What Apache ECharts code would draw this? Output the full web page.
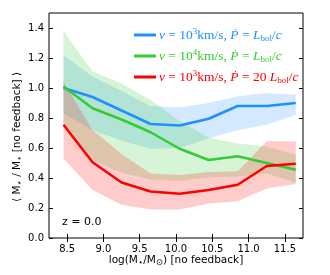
<!DOCTYPE html>
<html><head><meta charset="utf-8">
<script src="https://cdn.jsdelivr.net/npm/echarts@6/dist/echarts.min.js"></script>
<style>html,body{margin:0;padding:0;background:#fff}#c{width:330px;height:275px}</style>
</head><body><div id="c"></div>
<script>
const xVals=[8.45,8.85,9.25,9.65,10.05,10.45,10.85,11.25,11.65];
const blueMean=[1.0,0.94,0.85,0.76,0.75,0.795,0.88,0.88,0.90];
const blueLow=[0.83,0.72,0.65,0.595,0.60,0.665,0.72,0.755,0.82];
const blueHigh=[1.22,1.075,0.98,0.88,0.87,0.90,0.945,0.965,0.955];
const greenMean=[1.01,0.865,0.79,0.705,0.595,0.52,0.545,0.50,0.455];
const greenLow=[0.74,0.52,0.435,0.39,0.38,0.405,0.41,0.43,0.37];
const greenHigh=[1.38,1.11,1.03,0.92,0.78,0.67,0.63,0.61,0.555];
const redMean=[0.755,0.505,0.37,0.31,0.295,0.32,0.355,0.48,0.495];
const redLow=[0.53,0.32,0.222,0.19,0.19,0.23,0.245,0.33,0.36];
const redHigh=[1.04,0.72,0.56,0.43,0.42,0.44,0.445,0.645,0.645];
const xTicks=[8.5,9.0,9.5,10.0,10.5,11.0,11.5];
const yTicks=[0.0,0.2,0.4,0.6,0.8,1.0,1.2,1.4];
const names=['blue','green','red'];
const legendTexts={
  blue:'{i|v} = 10{sup|3}km/s, {i|Ṗ} = {i|L}{sub|bol}/{i|c}',
  green:'{i|v} = 10{sup|4}km/s, {i|Ṗ} = {i|L}{sub|bol}/{i|c}',
  red:'{i|v} = 10{sup|3}km/s, {i|Ṗ} = 20 {i|L}{sub|bol}/{i|c}'
};
const colors={blue:'#1e90ff',green:'#33cc33',red:'#ff0000'};
const fills={blue:'rgba(30,144,255,0.2)',green:'rgba(50,205,50,0.2)',red:'rgba(255,0,0,0.2)'};
const data={blue:[blueMean,blueLow,blueHigh],green:[greenMean,greenLow,greenHigh],red:[redMean,redLow,redHigh]};

const series=[];
names.forEach(n=>{
  const [m,lo,hi]=data[n];
  series.push({type:'custom',silent:true,z:1,
    data:xVals.map((x,i)=>[x,lo[i],hi[i]]),
    encode:{x:0,y:[1,2]},
    renderItem:(params,api)=>{
      if(params.dataIndex!==0) return null;
      const top=xVals.map((x,i)=>api.coord([x,hi[i]]));
      const bot=xVals.map((x,i)=>api.coord([x,lo[i]])).reverse();
      return {type:'polygon',shape:{points:top.concat(bot)},style:{fill:fills[n],stroke:null}};
    }});
});
names.forEach(n=>{
  series.push({type:'line',name:n,symbol:'none',
    data:xVals.map((x,i)=>[x,data[n][0][i]]),
    lineStyle:{color:colors[n],width:2.5},itemStyle:{color:colors[n]},z:3});
});

const axText={fontFamily:'DejaVu Sans',fontSize:10,color:'#000'};
const chart=echarts.init(document.getElementById('c'),null,{renderer:'canvas'});
chart.setOption({
  animation:false,
  grid:{left:49,right:27,top:13,bottom:37,show:true,borderColor:'#000',borderWidth:1,backgroundColor:'transparent'},
  xAxis:[
    {type:'value',min:8.25,max:11.75,splitLine:{show:false},
     axisLine:{show:false},
     axisTick:{inside:true,length:4,lineStyle:{color:'#000'},customValues:xTicks},
     axisLabel:Object.assign({margin:6,customValues:xTicks,formatter:v=>v.toFixed(1)},axText)},
    {type:'value',min:8.25,max:11.75,position:'top',splitLine:{show:false},
     axisLine:{show:false},
     axisTick:{inside:true,length:4,lineStyle:{color:'#000'},customValues:xTicks},
     axisLabel:{show:false}}
  ],
  yAxis:[
    {type:'value',min:0,max:1.5,splitLine:{show:false},axisLine:{show:false},
     axisTick:{show:true,inside:true,length:4,lineStyle:{color:'#000'},customValues:yTicks},
     axisLabel:Object.assign({margin:5,customValues:yTicks,formatter:v=>v.toFixed(1)},axText)},
    {type:'value',min:0,max:1.5,position:'right',splitLine:{show:false},axisLine:{show:false},
     axisTick:{show:true,inside:true,length:4,lineStyle:{color:'#000'},customValues:yTicks},
     axisLabel:{show:false}}
  ],
  legend:{
    orient:'vertical',left:129,top:22,itemWidth:22,itemHeight:3,itemGap:5,icon:'rect',
    data:names.map(n=>({name:n,itemStyle:{color:colors[n]},textStyle:{color:colors[n]}})),
    formatter:n=>legendTexts[n],
    textStyle:{fontFamily:'Liberation Serif',fontSize:13.5,lineHeight:16,padding:[0,0,0,-2],
      rich:{
        i:{fontFamily:'Liberation Serif',fontStyle:'italic',fontSize:13.5},
        sup:{fontFamily:'Liberation Serif',fontSize:9,verticalAlign:'top',lineHeight:16},
        sub:{fontFamily:'Liberation Serif',fontSize:9,verticalAlign:'bottom',lineHeight:16}
      }}
  },
  graphic:[
    {type:'text',left:62,top:217,style:{text:'z = 0.0',font:'11px "DejaVu Sans"',fill:'#000'}},
    {type:'text',x:17,y:137,rotation:Math.PI/2,style:{
      text:'⟨ M{s|⋆} / M{s|⋆} [no feedback] ⟩',font:'10.5px "DejaVu Sans"',fill:'#000',align:'center',verticalAlign:'middle',
      rich:{s:{fontSize:8.5,fontFamily:'DejaVu Sans',verticalAlign:'bottom',lineHeight:14}}}},
    {type:'text',x:176,y:260,style:{text:'log(M{s|⋆}/M{s|⊙}) [no feedback]',font:'10.5px "DejaVu Sans"',fill:'#000',align:'center',verticalAlign:'middle',
      rich:{s:{fontSize:8.5,fontFamily:'DejaVu Sans',verticalAlign:'bottom',lineHeight:14}}}}
  ],
  series:series
});
</script></body></html>
